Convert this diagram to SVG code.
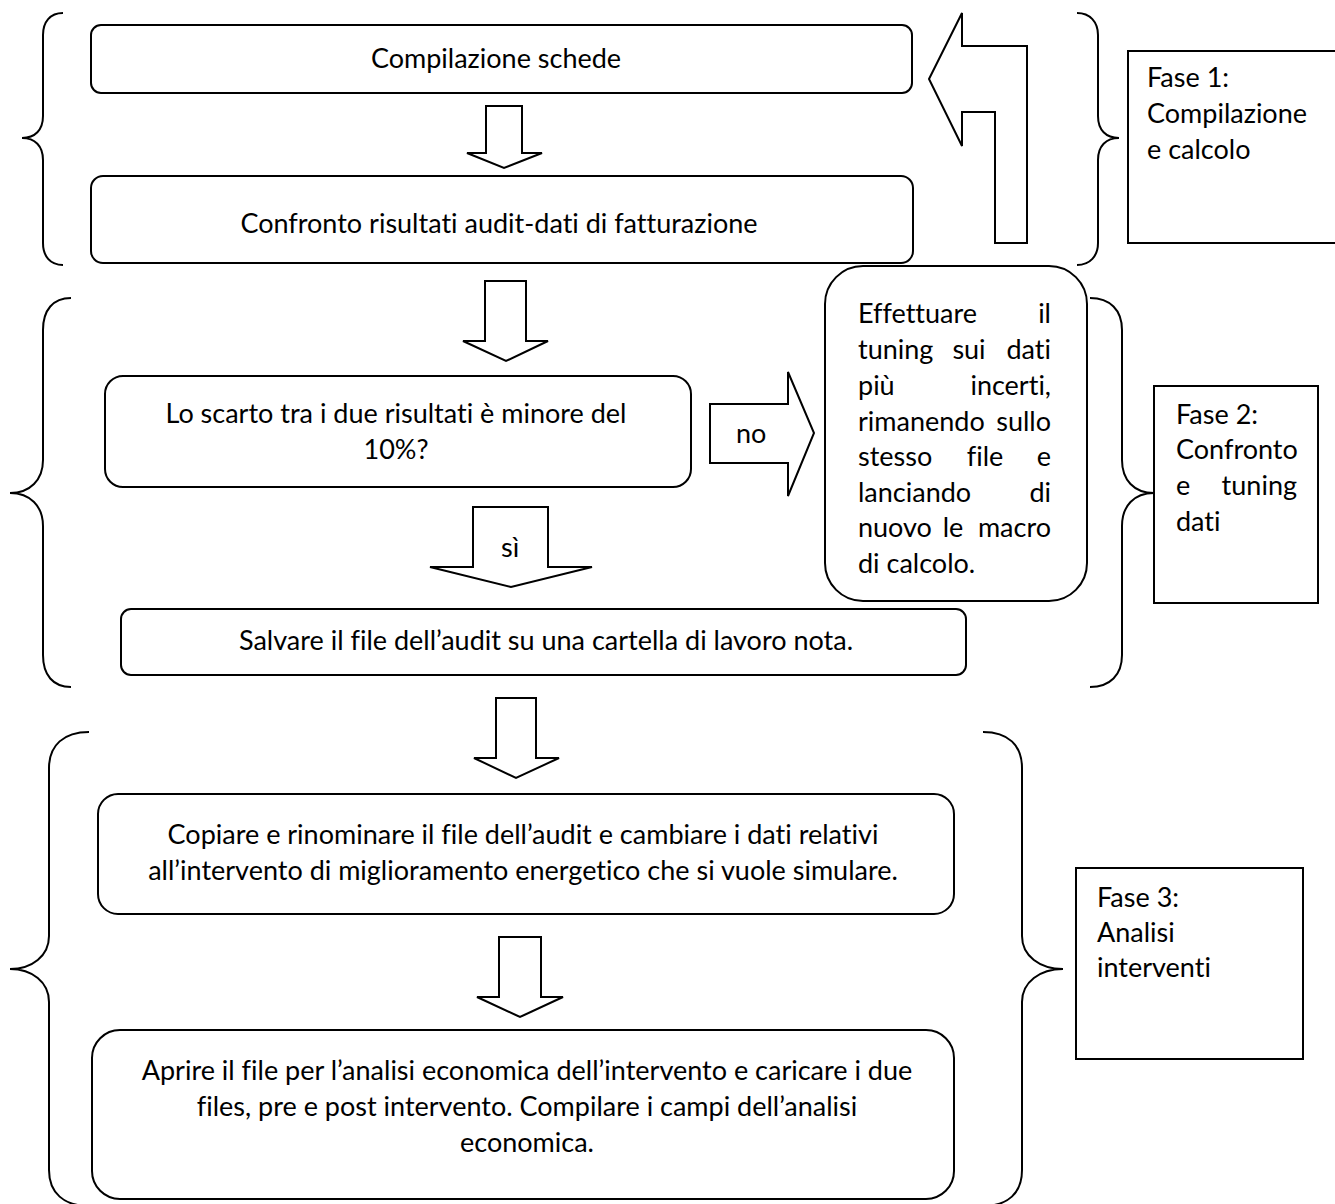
<svg xmlns="http://www.w3.org/2000/svg" width="1335" height="1204" viewBox="0 0 1335 1204">
<style>
.box{fill:#fff;stroke:#000;stroke-width:2}
.brace{fill:none;stroke:#000;stroke-width:2}
.arr{fill:#fff;stroke:#000;stroke-width:2;stroke-linejoin:miter}
text{font-family:Lato,"Liberation Sans",sans-serif;font-size:27px;fill:#000;font-variant-ligatures:none;font-feature-settings:"liga" 0,"clig" 0}
.c{text-anchor:middle}
.r{text-anchor:end}
</style>
<rect width="1335" height="1204" fill="#fff"/>
<g id="braces">
<path class="brace" d="M63,13 C50,13 43,22 43,35 L43,116 C43,130 35,138 22,138 C35,138 43,146 43,160 L43,243 C43,256 50,265 63,265"/>
<path class="brace" d="M1077,13 C1090,13 1098,22 1098,35 L1098,116 C1098,130 1106,138 1119,138 C1106,138 1098,146 1098,160 L1098,243 C1098,256 1090,265 1077,265"/>
<path class="brace" d="M71,298 C53,298 43,310 43,330 L43,460 C43,480 30,493 10,493 C30,493 43,506 43,526 L43,655 C43,675 53,687 71,687"/>
<path class="brace" d="M1090,298 C1110,298 1122,310 1122,330 L1122,460 C1122,480 1134,493 1154,493 C1134,493 1122,506 1122,526 L1122,655 C1122,675 1110,687 1090,687"/>
<path class="brace" d="M89,732 C64,732 49,745 49,768 L49,936 C49,956 32,969 10,969 C32,969 49,982 49,1002 L49,1170 C49,1193 64,1206 89,1206"/>
<path class="brace" d="M983,732 C1008,732 1022,745 1022,768 L1022,936 C1022,956 1040,969 1063,969 C1040,969 1022,982 1022,1002 L1022,1170 C1022,1193 1008,1206 983,1206"/>
</g>
<g id="connectors">
<polygon class="arr" points="486,106 522,106 522,153 542,153 504,168 467,153 486,153"/>
<polygon class="arr" points="929,79 962,13 962,46 1027,46 1027,243 995,243 995,112 962,112 962,146"/>
<polygon class="arr" points="485,281 526,281 526,341 548,341 506,361 463,341 485,341"/>
<g id="arrow-no">
<polygon class="arr" points="710,404 788,404 788,372 814,433 788,496 788,463 710,463"/>
<text x="736" y="443">no</text>
</g>
<g id="arrow-si">
<polygon class="arr" points="473,507 548,507 548,567 592,567 511,587 430,567 473,567"/>
<text x="501" y="557">sì</text>
</g>
<polygon class="arr" points="496,698 536,698 536,758 559,758 516,778 474,758 496,758"/>
<polygon class="arr" points="499,937 541,937 541,997 563,997 520,1017 477,997 499,997"/>
</g>
<g id="n1">
<rect class="box" x="91" y="25" width="821" height="68" rx="10"/>
<text class="c" x="496" y="68">Compilazione schede</text>
</g>
<g id="n2">
<rect class="box" x="91" y="176" width="822" height="87" rx="12"/>
<text class="c" x="499" y="233">Confronto risultati audit-dati di fatturazione</text>
</g>
<g id="fase1">
<rect class="box" x="1128" y="51" width="220" height="192"/>
<text x="1147" y="87">Fase 1:</text>
<text x="1147" y="123">Compilazione</text>
<text x="1147" y="159">e calcolo</text>
</g>
<g id="n3">
<rect class="box" x="105" y="376" width="586" height="111" rx="18"/>
<text class="c" x="396" y="423">Lo scarto tra i due risultati è minore del</text>
<text class="c" x="396" y="459">10%?</text>
</g>
<g id="n4">
<rect class="box" x="825" y="266" width="262" height="335" rx="38"/>
<text x="858" y="323">Effettuare</text><text class="r" x="1051" y="323">il</text>
<text x="858" y="359">tuning</text><text class="c" x="969" y="359">sui</text><text class="r" x="1051" y="359">dati</text>
<text x="858" y="395">più</text><text class="r" x="1051" y="395">incerti,</text>
<text x="858" y="431">rimanendo</text><text class="r" x="1051" y="431">sullo</text>
<text x="858" y="466">stesso</text><text class="c" x="985" y="466">file</text><text class="r" x="1051" y="466">e</text>
<text x="858" y="502">lanciando</text><text class="r" x="1051" y="502">di</text>
<text x="858" y="537">nuovo</text><text class="c" x="953" y="537">le</text><text class="r" x="1051" y="537">macro</text>
<text x="858" y="573">di calcolo.</text>
</g>
<g id="fase2">
<rect class="box" x="1154" y="386" width="164" height="217"/>
<text x="1176" y="424">Fase 2:</text>
<text x="1176" y="459">Confronto</text>
<text x="1176" y="495">e</text><text class="r" x="1297" y="495">tuning</text>
<text x="1176" y="531">dati</text>
</g>
<g id="n5">
<rect class="box" x="121" y="609" width="845" height="66" rx="10"/>
<text class="c" x="546" y="650">Salvare il file dell’audit su una cartella di lavoro nota.</text>
</g>
<g id="n6">
<rect class="box" x="98" y="794" width="856" height="120" rx="20"/>
<text class="c" x="523" y="844">Copiare e rinominare il file dell’audit e cambiare i dati relativi</text>
<text class="c" x="523" y="880">all’intervento di miglioramento energetico che si vuole simulare.</text>
</g>
<g id="n7">
<rect class="box" x="92" y="1030" width="862" height="169" rx="28"/>
<text class="c" x="527" y="1080">Aprire il file per l’analisi economica dell’intervento e caricare i due</text>
<text class="c" x="527" y="1116">files, pre e post intervento. Compilare i campi dell’analisi</text>
<text class="c" x="527" y="1152">economica.</text>
</g>
<g id="fase3">
<rect class="box" x="1076" y="868" width="227" height="191"/>
<text x="1097" y="907">Fase 3:</text>
<text x="1097" y="942">Analisi</text>
<text x="1097" y="977">interventi</text>
</g>
</svg>
